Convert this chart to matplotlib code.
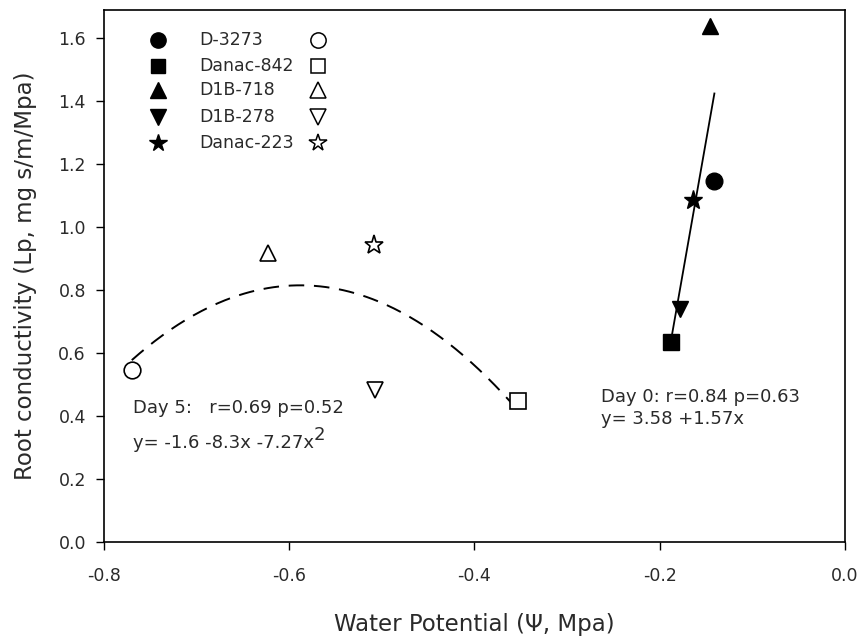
import numpy as np
import matplotlib
matplotlib.use("Agg")
import matplotlib.pyplot as plt

# ── Data ──────────────────────────────────────────────────────────────────────
genotypes = ["D-3273", "Danac-842", "D1B-718", "D1B-278", "Danac-223"]
markers   = ["o", "s", "^", "v", "*"]
msizes    = [12, 11, 12, 12, 14]

# Day 0 (filled symbols)
day0_x = [-0.141, -0.188, -0.146, -0.178, -0.164]
day0_y = [1.147, 0.634, 1.638, 0.739, 1.087]

# Day 5 (open symbols)
day5_x = [-0.770, -0.353, -0.623, -0.507, -0.509]
day5_y = [0.545, 0.449, 0.918, 0.484, 0.943]

day0_label = ["Day 0: r=0.84 p=0.63", "y= 3.58 +1.57x"]
day5_label = ["Day 5:   r=0.69 p=0.52", "y= -1.6 -8.3x -7.27x"]

x_ticks = [-0.8, -0.6, -0.4, -0.2, 0.0]
y_ticks = [0.0, 0.2, 0.4, 0.6, 0.8, 1.0, 1.2, 1.4, 1.6]

plt.rcParams["font.family"] = ["DejaVu Sans"]
TXT = "#2a2a2a"

fig = plt.figure(figsize=(8.61, 6.40), dpi=100)
ax = fig.add_axes([0.1208, 0.153, 0.8606, 0.832])

# regression lines
x0 = np.array(day0_x)
c1 = np.polyfit(x0, day0_y, 1)
xs = np.linspace(x0.min(), x0.max(), 50)
ax.plot(xs, np.polyval(c1, xs), color="black", lw=1.3, zorder=2)

x5 = np.array(day5_x)
c2 = np.polyfit(x5, day5_y, 2)
xs = np.linspace(x5.min(), x5.max(), 200)
ax.plot(xs, np.polyval(c2, xs), color="black", lw=1.4, ls=(0, (8, 5)), zorder=2)

# points
for i, m in enumerate(markers):
    ax.plot(day0_x[i], day0_y[i], marker=m, ms=msizes[i], color="black",
            ls="none", zorder=3)
    ax.plot(day5_x[i], day5_y[i], marker=m, ms=msizes[i], mfc="white",
            mec="black", mew=1.2, ls="none", zorder=3)

# manual legend
leg_rows = [0.943, 0.894, 0.849, 0.798, 0.749]
for i, m in enumerate(markers):
    yy = leg_rows[i]
    ax.plot(0.0729, yy, marker=m, ms=msizes[i] - 1, color="black",
            transform=ax.transAxes, clip_on=False)
    ax.plot(0.289, yy, marker=m, ms=msizes[i] - 1, mfc="white", mec="black",
            mew=1.1, transform=ax.transAxes, clip_on=False)
    ax.text(0.128, yy, genotypes[i], transform=ax.transAxes, fontsize=12.5,
            va="center", ha="left", color=TXT)

# equations
ax.text(-0.2634, 0.46, day0_label[0], fontsize=13, va="center", color=TXT)
ax.text(-0.2634, 0.39, day0_label[1], fontsize=13, va="center", color=TXT)
ax.text(-0.769, 0.425, day5_label[0], fontsize=13, va="center", color=TXT)
t = ax.text(-0.769, 0.315, day5_label[1], fontsize=13, va="center", color=TXT)
ax.annotate("2", xy=(1.0, 0.45), xycoords=t, fontsize=13, va="bottom",
            ha="left", color=TXT)

ax.set_xlim(-0.8, 0.0)
ax.set_ylim(0.0, 1.69)
ax.set_xticks(x_ticks)
ax.set_yticks(y_ticks)
ax.set_xticklabels([f"{v:.1f}" for v in x_ticks])
ax.set_yticklabels([f"{v:.1f}" for v in y_ticks])
ax.tick_params(direction="out", length=6, width=1, labelsize=12.5,
               labelcolor=TXT, pad=7)
ax.tick_params(axis="x", pad=12)
for s in ax.spines.values():
    s.set_linewidth(1.2)

ax.set_xlabel("Water Potential (\u03a8, Mpa)", fontsize=16.5, color=TXT,
              labelpad=20)
ax.set_ylabel("Root conductivity (Lp, mg s/m/Mpa)", fontsize=16.5, color=TXT,
              labelpad=15)

fig.savefig("out.png", dpi=100)
